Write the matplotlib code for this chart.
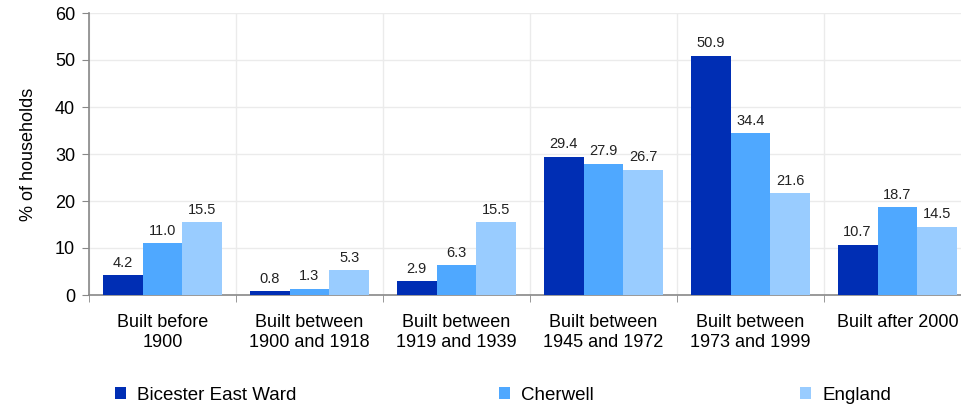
import matplotlib
matplotlib.use("Agg")
import matplotlib.pyplot as plt
import numpy as np
from matplotlib.patches import Patch

plt.rcParams["font.family"] = ["Liberation Sans", "DejaVu Sans"]

categories = ["Built before\n1900", "Built between\n1900 and 1918", "Built between\n1919 and 1939",
              "Built between\n1945 and 1972", "Built between\n1973 and 1999", "Built after 2000"]
series_names = ["Bicester East Ward", "Cherwell", "England"]
bicester = [4.2, 0.8, 2.9, 29.4, 50.9, 10.7]
cherwell = [11.0, 1.3, 6.3, 27.9, 34.4, 18.7]
england = [15.5, 5.3, 15.5, 26.7, 21.6, 14.5]
colors = ["#002EB4", "#4FA8FF", "#99CCFF"]
y_ticks = [0, 10, 20, 30, 40, 50, 60]
legend_x = [115, 499, 800]

fig = plt.figure(figsize=(9.62, 4.07), dpi=100)
ax = fig.add_axes([89 / 962, 112 / 407, 882 / 962, 282 / 407])

x = np.arange(len(categories))
w = 0.272
for k, (vals, col) in enumerate(zip([bicester, cherwell, england], colors)):
    bars = ax.bar(x + (k - 1) * w, vals, width=w, color=col, zorder=3, label=series_names[k])
    ax.bar_label(bars, fmt="%.1f", padding=4, fontsize=10.5, color="#222222")

ax.set_xlim(-0.5, len(categories) - 0.5)
ax.set_ylim(0, 60)
ax.set_yticks(y_ticks)
ax.tick_params(axis="y", labelsize=13, length=5, color="#888888", pad=5)
ax.set_xticks(x)
ax.set_xticklabels(categories, fontsize=13, linespacing=1.2)
ax.tick_params(axis="x", length=0, pad=14)
ax.set_xticks(np.arange(len(categories) + 1) - 0.5, minor=True)
ax.tick_params(axis="x", which="minor", length=5, color="#888888")
ax.grid(axis="y", color="#EBEBEB", linewidth=1, zorder=0)
ax.grid(axis="x", which="minor", color="#EBEBEB", linewidth=1, zorder=0)

for s in ["top", "right"]:
    ax.spines[s].set_visible(False)
for s in ["left", "bottom"]:
    ax.spines[s].set_color("#888888")
    ax.spines[s].set_linewidth(1.2)

ax.set_ylabel("% of households", fontsize=13, labelpad=13)

for name, col, lx in zip(series_names, colors, legend_x):
    fig.legend([Patch(facecolor=col)], [name], loc="center left",
               bbox_to_anchor=(lx / 962, 12 / 407), frameon=False, fontsize=13.5,
               handlelength=0.6, handleheight=0.6, handletextpad=0.6,
               borderpad=0, borderaxespad=0)

fig.savefig("out.png", dpi=100)
